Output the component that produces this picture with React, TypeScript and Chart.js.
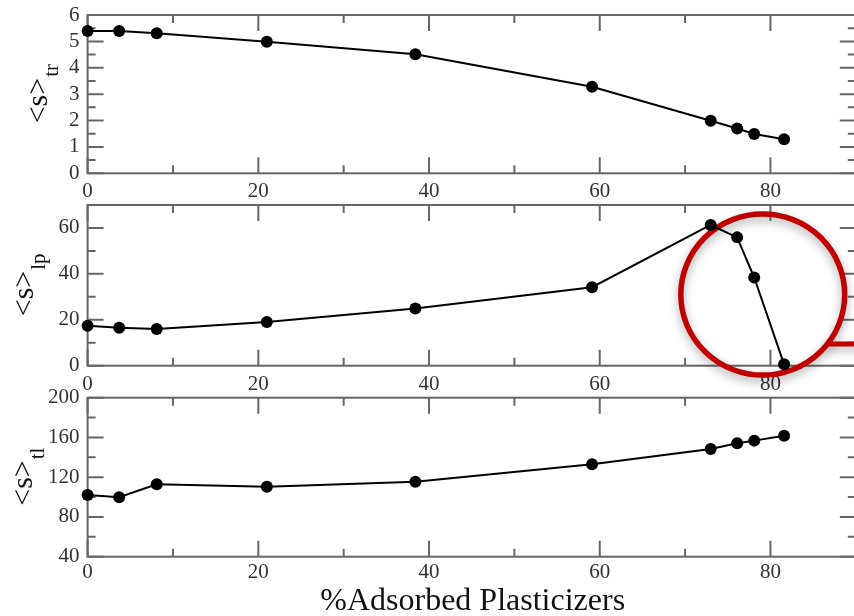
import { useEffect, useRef } from "react";
import { Chart, registerables } from "chart.js";
Chart.register(...registerables);

// ---- data ----
const xValues = [0, 3.7, 8.1, 21, 38.4, 59.1, 73.0, 76.1, 78.1, 81.6];
const sTr = [5.39, 5.39, 5.31, 4.99, 4.51, 3.28, 1.99, 1.7, 1.49, 1.29];
const sLp = [17.4, 16.5, 16.0, 19.0, 24.9, 34.2, 61.3, 55.9, 38.4, 0.6];
const sTl = [102.1, 99.8, 112.8, 110.4, 115.5, 133.0, 148.4, 154.1, 156.8, 161.8];
const xTicks = [0, 20, 40, 60, 80];
const trTicks = [0, 1, 2, 3, 4, 5, 6];
const lpTicks = [0, 20, 40, 60];
const tlTicks = [40, 80, 120, 160, 200];
const xTitle = "%Adsorbed Plasticizers";
// highlight annotation on the middle panel (data coordinates)
const highlight = { x: 79.1, y: 31, rx: 9.6, ry: 35.1, calloutY: 9.5 };

const SERIF = "'Liberation Serif', 'DejaVu Serif', serif";
const CANVAS_W = 870;

type Panel = {
  top: number;
  height: number;
  padTop: number;
  plotH: number;
  ymin: number;
  ymax: number;
  yticks: number[];
  yMinor: number;
  data: number[];
  main: string;
  sub: string;
  titleX: number;
  subShift: number;
  labelPad: number;
  xTitle?: boolean;
  circle?: boolean;
};

const panels: Panel[] = [
  { top: 0, height: 200, padTop: 15, plotH: 158.3, ymin: 0, ymax: 6, yticks: trTicks, yMinor: 0.5, data: sTr, main: "<s>", sub: "tr", titleX: 47, subShift: 11, labelPad: 6, },
  { top: 190, height: 210, padTop: 15, plotH: 160.7, ymin: 0, ymax: 70, yticks: lpTicks, yMinor: 10, data: sLp, main: "<s>", sub: "lp", titleX: 33, subShift: 12, labelPad: 6, circle: true },
  { top: 380, height: 236, padTop: 17.7, plotH: 159, ymin: 40, ymax: 200, yticks: tlTicks, yMinor: 20, data: sTl, main: "<s>", sub: "tl", titleX: 32, subShift: 12, labelPad: 3, xTitle: true },
];

function makePlugin(p: Panel) {
  return {
    id: "frameAndTitles",
    beforeDatasetsDraw(chart: any) {
      const { ctx, chartArea: a, scales } = chart;
      const xs = scales.x;
      const ys = scales.y;
      ctx.save();
      ctx.strokeStyle = "#666";
      ctx.lineWidth = 2;
      ctx.strokeRect(a.left, a.top, a.right - a.left, a.bottom - a.top);
      ctx.beginPath();
      // x ticks: major every 20, minor every 10
      for (let v = 0; v <= 90; v += 10) {
        const px = xs.getPixelForValue(v);
        const len = v % 20 === 0 ? 16 : 8;
        ctx.moveTo(px, a.bottom);
        ctx.lineTo(px, a.bottom - len);
        ctx.moveTo(px, a.top);
        ctx.lineTo(px, a.top + len);
      }
      const majorStep = p.yticks[1] - p.yticks[0];
      for (let v = p.ymin; v <= p.ymax + 1e-9; v += p.yMinor) {
        const py = ys.getPixelForValue(v);
        const r = (v - p.ymin) / majorStep;
        const isMajor = Math.abs(r - Math.round(r)) < 1e-6;
        const len = isMajor ? 16 : 8;
        ctx.moveTo(a.left, py);
        ctx.lineTo(a.left + len, py);
        ctx.moveTo(a.right, py);
        ctx.lineTo(a.right - len, py);
      }
      ctx.stroke();

      // y title with subscript
      const cy = (a.top + a.bottom) / 2;
      ctx.fillStyle = "#111";
      ctx.textBaseline = "alphabetic";
      ctx.textAlign = "left";
      ctx.font = `30px ${SERIF}`;
      const wMain = ctx.measureText(p.main).width;
      ctx.font = `21px ${SERIF}`;
      const wSub = ctx.measureText(p.sub).width;
      const total = wMain + wSub;
      ctx.save();
      ctx.translate(p.titleX, cy + total / 2);
      ctx.rotate(-Math.PI / 2);
      ctx.font = `30px ${SERIF}`;
      ctx.fillText(p.main, 0, 0);
      ctx.font = `21px ${SERIF}`;
      ctx.fillText(p.sub, wMain + 1, p.subShift);
      ctx.restore();

      if (p.xTitle) {
        ctx.font = `32px ${SERIF}`;
        ctx.textAlign = "center";
        ctx.fillStyle = "#111";
        ctx.fillText(xTitle, (a.left + a.right) / 2 + 1, chart.height - 6);
      }

      if (p.circle) {
        const cx = xs.getPixelForValue(highlight.x);
        const ccy = ys.getPixelForValue(highlight.y);
        const rx = xs.getPixelForValue(highlight.x + highlight.rx) - cx;
        const ry = ccy - ys.getPixelForValue(highlight.y + highlight.ry);
        const ly = ys.getPixelForValue(highlight.calloutY);
        const dy = (ly - ccy) / ry;
        const lx = cx + rx * Math.sqrt(Math.max(0, 1 - dy * dy));
        ctx.save();
        ctx.shadowColor = "rgba(0,0,0,0.35)";
        ctx.shadowBlur = 10;
        ctx.shadowOffsetY = 4;
        ctx.strokeStyle = "#c00000";
        ctx.lineWidth = 5.5;
        ctx.beginPath();
        ctx.ellipse(cx, ccy, rx, ry, 0, 0, Math.PI * 2);
        ctx.stroke();
        ctx.beginPath();
        ctx.lineWidth = 5;
        ctx.moveTo(lx - 2, ly);
        ctx.lineTo(chart.width, ly);
        ctx.stroke();
        ctx.restore();
      }
      ctx.restore();
    },
  };
}

function PanelChart({ p }: { p: Panel }) {
  const ref = useRef<HTMLCanvasElement | null>(null);
  useEffect(() => {
    if (!ref.current) return;
    const xAxisH = p.height - p.padTop - p.plotH;
    const chart = new Chart(ref.current, {
      type: "scatter",
      data: {
        datasets: [
          {
            data: xValues.map((x, i) => ({ x, y: p.data[i] })),
            showLine: true,
            borderColor: "#000",
            borderWidth: 2,
            backgroundColor: "#000",
            pointBackgroundColor: "#000",
            pointBorderWidth: 0,
            pointRadius: 6,
            clip: false as any,
          },
        ],
      },
      options: {
        animation: false,
        responsive: false,
        devicePixelRatio: 1,
        events: [],
        layout: { autoPadding: false, padding: { left: 0, top: p.padTop, right: CANVAS_W - 855.8, bottom: 0 } },
        plugins: { legend: { display: false }, tooltip: { enabled: false } },
        scales: {
          x: {
            type: "linear",
            min: 0,
            max: 90,
            afterBuildTicks: (s: any) => {
              s.ticks = xTicks.map((v) => ({ value: v }));
            },
            afterFit: (s: any) => {
              s.height = xAxisH;
              s.paddingLeft = 0;
              s.paddingRight = 0;
              s.paddingTop = 0;
              s.paddingBottom = 0;
            },
            grid: { display: false, drawTicks: false },
            border: { display: false },
            ticks: {
              autoSkip: false,
              maxRotation: 0,
              padding: p.labelPad,
              color: "#333",
              font: { family: SERIF, size: 21 },
            },
          },
          y: {
            type: "linear",
            min: p.ymin,
            max: p.ymax,
            afterBuildTicks: (s: any) => {
              s.ticks = p.yticks.map((v) => ({ value: v }));
            },
            afterFit: (s: any) => {
              s.width = 87.6;
              s.paddingTop = 0;
              s.paddingBottom = 0;
              s.paddingLeft = 0;
              s.paddingRight = 0;
            },
            grid: { display: false, drawTicks: false },
            border: { display: false },
            ticks: {
              autoSkip: false,
              padding: 8,
              color: "#333",
              font: { family: SERIF, size: 21 },
            },
          },
        },
      },
      plugins: [makePlugin(p)],
    });
    return () => chart.destroy();
  }, [p]);
  return (
    <canvas
      ref={ref}
      width={CANVAS_W}
      height={p.height}
      style={{ position: "absolute", left: 0, top: p.top, width: CANVAS_W, height: p.height }}
    />
  );
}

export default function App() {
  return (
    <div
      style={{
        position: "absolute",
        left: 0,
        top: 0,
        width: 854,
        height: 616,
        overflow: "hidden",
        background: "#fff",
      }}
    >
      {panels.map((p, i) => (
        <PanelChart key={i} p={p} />
      ))}
    </div>
  );
}
